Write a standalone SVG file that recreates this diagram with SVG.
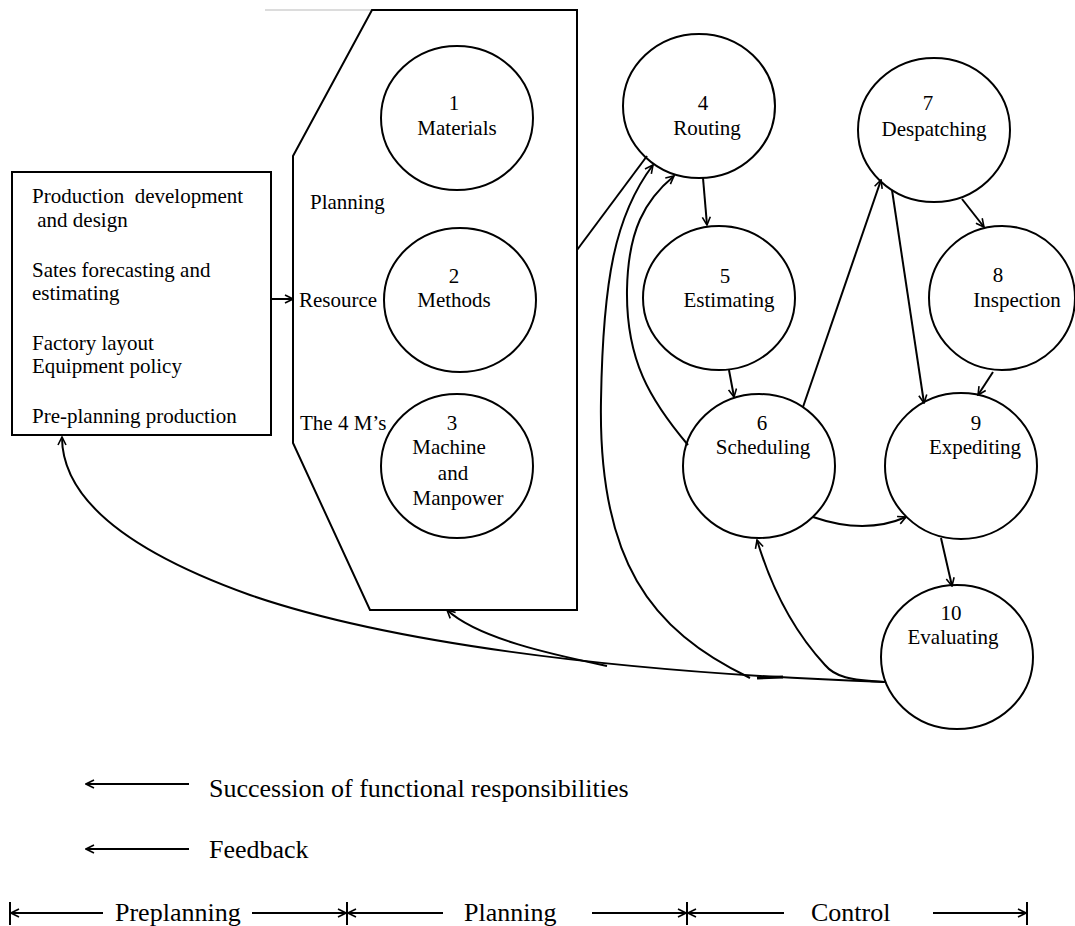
<svg xmlns="http://www.w3.org/2000/svg" width="1075" height="926" viewBox="0 0 1075 926">
<style>
text{font-family:"Liberation Serif","Times New Roman",serif;font-size:21px;fill:#000}
.c{text-anchor:middle}
.big{font-size:26px}
.n{fill:#fff;stroke:#000;stroke-width:2}
.ln{fill:none;stroke:#000;stroke-width:2}
.a{fill:none;stroke:#000;stroke-width:2;marker-end:url(#arr)}
</style>
<defs>
<marker id="arr" viewBox="0 0 10 10" refX="9" refY="5" markerWidth="10" markerHeight="10" markerUnits="userSpaceOnUse" orient="auto">
<path d="M1,1 L9,5 L1,9" fill="none" stroke="#000" stroke-width="1.6"/>
</marker>
</defs>
<rect width="1075" height="926" fill="#fff"/>
<line x1="265" y1="10" x2="372" y2="10" stroke="#d0d0d0" stroke-width="1.5"/>

<g id="preplanning-box">
<rect x="12" y="172" width="259" height="263" class="n"/>
<text x="32" y="203" xml:space="preserve">Production  development</text>
<text x="32" y="227" xml:space="preserve"> and design</text>
<text x="32" y="277">Sates forecasting and</text>
<text x="32" y="300">estimating</text>
<text x="32" y="350">Factory layout</text>
<text x="32" y="373">Equipment policy</text>
<text x="32" y="423">Pre-planning production</text>
</g>

<g id="resource-planning">
<polygon points="372,10 577,10 577,610 370,610 293,443 293,156" class="n"/>
<text x="310" y="209">Planning</text>
<text x="299" y="307">Resource</text>
<text x="300" y="430">The 4 M’s</text>
</g>

<g id="n1">
<ellipse cx="457" cy="118" rx="76" ry="72" class="n"/>
<text x="454" y="110" class="c">1</text>
<text x="457" y="135" class="c">Materials</text>
</g>
<g id="n2">
<ellipse cx="460" cy="300" rx="76" ry="72" class="n"/>
<text x="454" y="283" class="c">2</text>
<text x="454" y="307" class="c">Methods</text>
</g>
<g id="n3">
<ellipse cx="457" cy="466" rx="76" ry="72" class="n"/>
<text x="452" y="430" class="c">3</text>
<text x="449" y="454" class="c">Machine</text>
<text x="453" y="480" class="c">and</text>
<text x="458" y="505" class="c">Manpower</text>
</g>

<g id="n4">
<ellipse cx="699" cy="106" rx="76" ry="72" class="n"/>
<text x="703" y="110" class="c">4</text>
<text x="707" y="135" class="c">Routing</text>
</g>
<g id="n5">
<ellipse cx="719" cy="298" rx="76" ry="72" class="n"/>
<text x="725" y="283" class="c">5</text>
<text x="729" y="307" class="c">Estimating</text>
</g>
<g id="n6">
<ellipse cx="759" cy="466" rx="76" ry="72" class="n"/>
<text x="762" y="430" class="c">6</text>
<text x="763" y="454" class="c">Scheduling</text>
</g>
<g id="n7">
<ellipse cx="934" cy="130" rx="76" ry="72" class="n"/>
<text x="928" y="110" class="c">7</text>
<text x="934" y="136" class="c">Despatching</text>
</g>
<g id="n8">
<ellipse cx="1002" cy="298" rx="73" ry="72" class="n"/>
<text x="998" y="282" class="c">8</text>
<text x="1017" y="307" class="c">Inspection</text>
</g>
<g id="n9">
<ellipse cx="961" cy="466" rx="76" ry="73" class="n"/>
<text x="976" y="430" class="c">9</text>
<text x="975" y="454" class="c">Expediting</text>
</g>
<g id="n10">
<ellipse cx="957" cy="657" rx="76" ry="72" class="n"/>
<text x="951" y="620" class="c">10</text>
<text x="953" y="644" class="c">Evaluating</text>
</g>

<g id="connectors">
<line x1="271" y1="299" x2="293" y2="299" class="a"/>
<line x1="577" y1="250" x2="647" y2="156" class="ln"/>
<path d="M750,678 C650,630 598,560 601,400 C603,280 615,215 653,165" class="a"/>
<path d="M688,445 C650,400 626,360 627,290 C628,230 645,200 674,176" class="a"/>
<line x1="703" y1="178" x2="707" y2="225" class="a"/>
<line x1="729" y1="370" x2="734" y2="397" class="a"/>
<line x1="803" y1="407" x2="881" y2="180" class="a"/>
<line x1="892" y1="190" x2="924" y2="403" class="a"/>
<line x1="962" y1="199" x2="984" y2="227" class="a"/>
<line x1="993" y1="372" x2="978" y2="395" class="a"/>
<path d="M813,517 Q865,535 906,517" class="a"/>
<line x1="941" y1="538" x2="952" y2="586" class="a"/>
<path d="M884,682 C850,680 835,677 825,665 C800,638 775,600 757,540" class="a"/>
<path d="M886,682 C600,672 380,640 250,595 C130,552 62,500 62,437" class="a"/>
<path d="M607,666 C560,656 480,640 447,610" class="a"/>
<line x1="757" y1="678" x2="783" y2="677" stroke="#000" stroke-width="3"/>
</g>

<g id="legend">
<line x1="189" y1="784" x2="86" y2="784" class="a"/>
<text x="209" y="797" class="big">Succession of functional responsibilities</text>
<line x1="189" y1="849" x2="86" y2="849" class="a"/>
<text x="209" y="858" class="big">Feedback</text>
</g>

<g id="phases">
<line x1="10" y1="902" x2="10" y2="925" class="ln"/>
<line x1="347" y1="902" x2="347" y2="925" class="ln"/>
<line x1="687" y1="902" x2="687" y2="925" class="ln"/>
<line x1="1027" y1="902" x2="1027" y2="925" class="ln"/>
<line x1="103" y1="913" x2="11" y2="913" class="a"/>
<line x1="252" y1="913" x2="346" y2="913" class="a"/>
<line x1="443" y1="913" x2="348" y2="913" class="a"/>
<line x1="592" y1="913" x2="686" y2="913" class="a"/>
<line x1="784" y1="913" x2="688" y2="913" class="a"/>
<line x1="933" y1="913" x2="1026" y2="913" class="a"/>
<text x="115" y="921" class="big">Preplanning</text>
<text x="464" y="921" class="big">Planning</text>
<text x="811" y="921" class="big">Control</text>
</g>
</svg>
